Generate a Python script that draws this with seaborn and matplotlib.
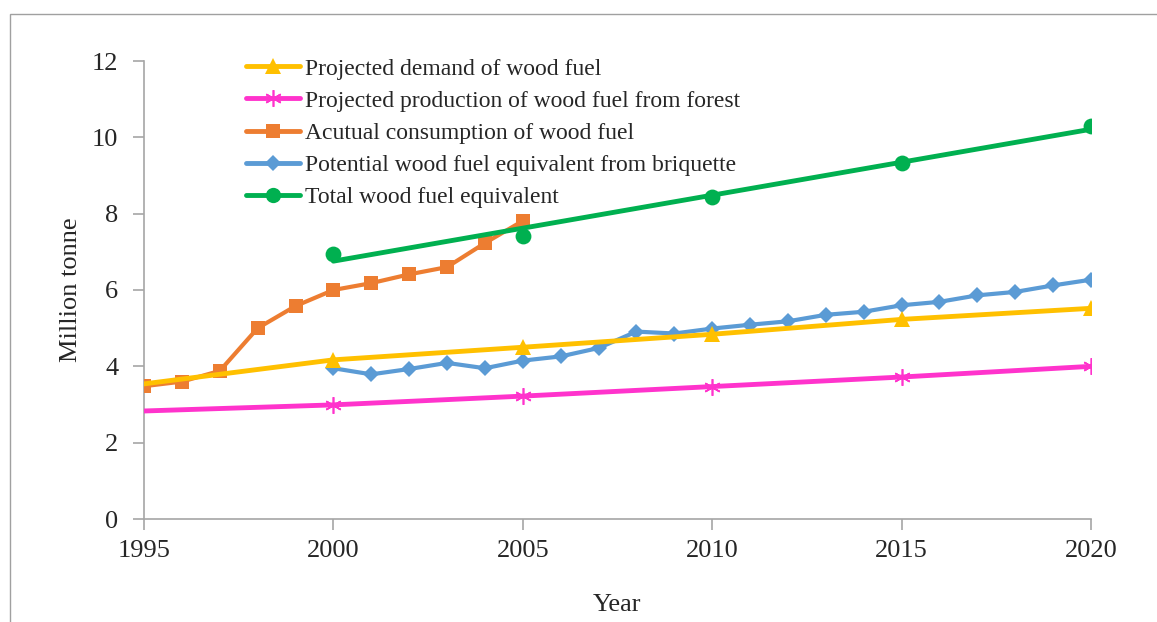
"""Wood fuel demand, production, consumption and briquette equivalent, 1995-2020."""
import matplotlib
matplotlib.use("Agg")
import matplotlib.pyplot as plt
from matplotlib.lines import Line2D
from matplotlib.patches import Rectangle
import seaborn as sns

sns.set_style("white")
plt.rcParams["font.family"] = ["Liberation Serif", "DejaVu Serif"]

# data (million tonne)
demand_years = [1995, 2000, 2005, 2010, 2015, 2020]
demand = [3.54, 4.17, 4.50, 4.84, 5.23, 5.52]

production_years = [1995, 2000, 2005, 2010, 2015, 2020]
production = [2.83, 2.99, 3.22, 3.47, 3.72, 4.00]

consumption_years = list(range(1995, 2006))
consumption = [3.48, 3.60, 3.88, 5.00, 5.58, 6.00, 6.18, 6.41, 6.60, 7.23, 7.81]

briquette_years = list(range(2000, 2021))
briquette = [3.95, 3.79, 3.93, 4.09, 3.95, 4.15, 4.26, 4.48, 4.91, 4.86, 4.99,
             5.09, 5.18, 5.35, 5.43, 5.60, 5.69, 5.86, 5.95, 6.12, 6.27]

total_years = [2000, 2005, 2010, 2015, 2020]
total = [6.94, 7.41, 8.44, 9.33, 10.30]

labels = [
    "Projected demand of wood fuel",
    "Projected production of wood fuel from forest",
    "Acutual consumption of wood fuel",
    "Potential wood fuel equivalent from briquette",
    "Total wood fuel equivalent",
]
colors = ["#FFC000", "#FF33CC", "#ED7D31", "#5B9BD5", "#00B050"]
year_ticks = [1995, 2000, 2005, 2010, 2015, 2020]
value_ticks = [0, 2, 4, 6, 8, 10, 12]

fig = plt.figure(figsize=(11.57, 6.22), dpi=100)
ax = fig.add_axes([144 / 1157, 1 - 519 / 622, (1091 - 144) / 1157, (519 - 61) / 622])

sns.lineplot(x=consumption_years, y=consumption, ax=ax, color=colors[2],
             linewidth=3, marker="s", markersize=10.5, markeredgewidth=0, zorder=3)
sns.lineplot(x=briquette_years, y=briquette, ax=ax, color=colors[3],
             linewidth=3, marker="D", markersize=8.5, markeredgewidth=0, zorder=3)
sns.lineplot(x=production_years, y=production, ax=ax, color=colors[1],
             linewidth=3.5, marker=(6, 2, 0), markersize=12, markeredgewidth=1.2,
             markeredgecolor=colors[1], markevery=[1, 2, 3, 4, 5], zorder=4)
sns.lineplot(x=demand_years, y=demand, ax=ax, color=colors[0],
             linewidth=3.5, marker="^", markersize=11, markeredgewidth=0,
             markevery=[1, 2, 3, 4, 5], zorder=4)
# total: data points plus linear trend line
sns.regplot(x=total_years, y=total, ax=ax, scatter=False, ci=None,
            line_kws={"color": colors[4], "linewidth": 3.5, "zorder": 5})
sns.scatterplot(x=total_years, y=total, ax=ax, color=colors[4], s=130,
                linewidth=0, zorder=6)

ax.set_xlim(1995, 2020)
ax.set_ylim(0, 12)
ax.set_xticks(year_ticks)
ax.set_yticks(value_ticks)
ax.tick_params(axis="both", direction="out", length=8, width=1.2, color="#A6A6A6",
               labelsize=19, bottom=True, left=True)
ax.tick_params(axis="x", pad=7)
ax.tick_params(axis="y", pad=10.5)
for side in ["top", "right"]:
    ax.spines[side].set_visible(False)
for side in ["left", "bottom"]:
    ax.spines[side].set_color("#A6A6A6")
    ax.spines[side].set_linewidth(1.2)

ax.set_xlabel("Year", fontsize=19, labelpad=23)
ax.set_ylabel("Million tonne", fontsize=19, labelpad=7)

markers = ["^", (6, 2, 0), "s", "D", "o"]
sizes = [11, 12, 10.5, 8.5, 11]
handles = [
    Line2D([], [], color=c, marker=m, markersize=s, linewidth=3.5,
           markeredgewidth=1.2 if i == 1 else 0, markeredgecolor=c)
    for i, (c, m, s) in enumerate(zip(colors, markers, sizes))
]
ax.legend(handles, labels, loc="upper left", bbox_to_anchor=(0.0975, 1.027),
          frameon=False, fontsize=17, handlelength=2.3, handletextpad=0.2,
          labelspacing=0.45, borderaxespad=0)

# thin grey frame around the chart area
fig.patches.append(Rectangle((10 / 1157, -0.1), 1.2, 1.1 - 14 / 622,
                             transform=fig.transFigure, fill=False,
                             edgecolor="#A0A0A0", linewidth=1))

fig.savefig("out.png", dpi=100)
plt.close(fig)
